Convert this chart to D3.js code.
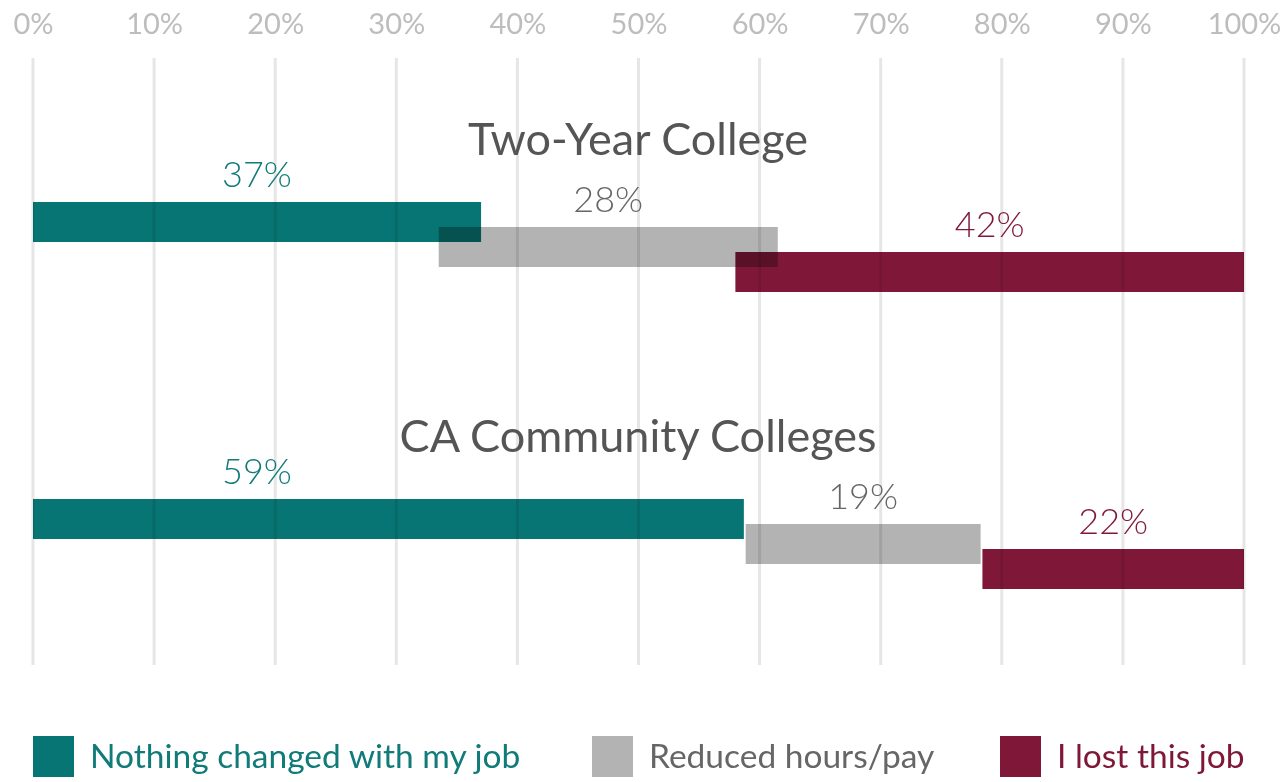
<!DOCTYPE html>
<html>
<head>
<meta charset="utf-8">
<script src="https://cdn.jsdelivr.net/npm/d3@7"></script>
<style>
  html, body { margin: 0; padding: 0; background: #fff; }
  svg { display: block; font-family: Lato, "Open Sans", sans-serif; }
  .bar { mix-blend-mode: multiply; }
</style>
</head>
<body>
<svg id="chart" width="1283" height="782"></svg>
<script>
// Chart data
const GROUPS = ['Two-Year College', 'CA Community Colleges'];
const SERIES = ['Nothing changed with my job', 'Reduced hours/pay', 'I lost this job'];
const NOTHING_CHANGED = [37, 58.7];
const REDUCED = [28, 19.4];
const LOST = [42, 21.6];
const TICKS = [0, 10, 20, 30, 40, 50, 60, 70, 80, 90, 100];

const COLORS = ['#077573', '#b3b3b3', '#7f1838'];
const LABEL_COLORS = ['#107b78', '#666666', '#7f1838'];

const svg = d3.select('#chart');

const x = d3.scaleLinear().domain([0, 100]).range([33, 1244]);
// vertical position of each group's first bar
const y = d3.scalePoint().domain(GROUPS).range([202, 499]);
const BAR_H = 40;
const STEP = 25;

// Gridlines
svg.append('g').attr('class', 'grid')
  .selectAll('line')
  .data(TICKS)
  .enter()
  .append('line')
    .attr('x1', d => x(d)).attr('x2', d => x(d))
    .attr('y1', 58).attr('y2', 665)
    .attr('stroke', '#e6e6e6')
    .attr('stroke-width', 3);

// Top axis labels
const xAxis = d3.axisTop(x)
  .tickValues(TICKS)
  .tickSize(0)
  .tickPadding(0)
  .tickFormat(d => d + '%');

svg.append('g')
  .attr('transform', 'translate(0, 34)')
  .call(xAxis)
  .call(g => g.select('.domain').remove())
  .call(g => g.selectAll('text')
    .attr('fill', '#bdbdbd')
    .attr('font-size', 29)
    .attr('font-family', 'Lato, sans-serif')
    .attr('dy', 0));

// Build segments: first series from 0, last series flush right at 100,
// middle series centered in the space between them.
// The first series' labels all sit at the same spot, over the shortest bar's middle.
const firstLabelAt = d3.min(NOTHING_CHANGED) / 2;
const segments = [];
GROUPS.forEach((g, i) => {
  const a = NOTHING_CHANGED[i], b = REDUCED[i], c = LOST[i];
  const mid = (a + (100 - c)) / 2;
  segments.push({ group: g, k: 0, value: a, start: 0, end: a, labelAt: firstLabelAt });
  segments.push({ group: g, k: 1, value: b, start: mid - b / 2, end: mid + b / 2, labelAt: mid });
  segments.push({ group: g, k: 2, value: c, start: 100 - c, end: 100, labelAt: 100 - c / 2 });
});

// Group titles
svg.append('g').selectAll('text')
  .data(GROUPS)
  .enter()
  .append('text')
    .attr('x', 638)
    .attr('y', d => y(d) - 47)
    .attr('text-anchor', 'middle')
    .attr('fill', '#555555')
    .attr('font-size', 45)
    .text(d => d);

// Bars
svg.append('g').attr('class', 'bars')
  .selectAll('rect')
  .data(segments)
  .enter()
  .append('rect')
    .attr('class', 'bar')
    .attr('x', d => x(d.start))
    .attr('y', d => y(d.group) + d.k * STEP)
    .attr('width', d => x(d.end) - x(d.start))
    .attr('height', BAR_H)
    .attr('fill', d => COLORS[d.k]);

// Value labels
svg.append('g').attr('class', 'labels')
  .selectAll('text')
  .data(segments)
  .enter()
  .append('text')
    .attr('x', d => x(d.labelAt))
    .attr('y', d => y(d.group) + d.k * STEP - 15)
    .attr('text-anchor', 'middle')
    .attr('fill', d => LABEL_COLORS[d.k])
    .attr('font-size', 36)
    .attr('font-weight', 300)
    .text(d => d3.format('.0f')(d.value) + '%');

// Legend
const legendX = [33, 592, 1000];
const legend = svg.append('g').attr('class', 'legend')
  .selectAll('g')
  .data(SERIES)
  .enter()
  .append('g')
    .attr('transform', (d, i) => `translate(${legendX[i]}, 736)`);

legend.append('rect')
  .attr('width', 41).attr('height', 41)
  .attr('fill', (d, i) => COLORS[i]);

legend.append('text')
  .attr('x', 57)
  .attr('y', 32)
  .attr('fill', (d, i) => LABEL_COLORS[i])
  .attr('font-size', 33.5)
  .text(d => d);
</script>
</body>
</html>
